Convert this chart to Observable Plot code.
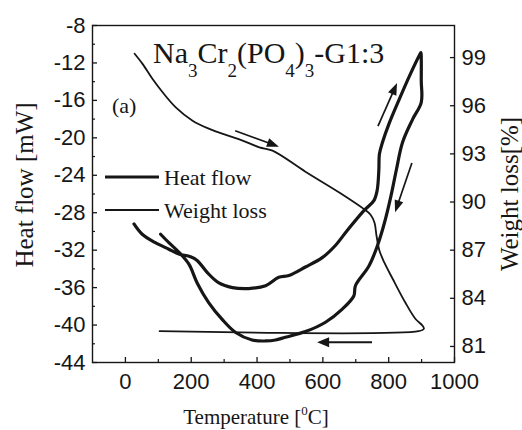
<!DOCTYPE html>
<html>
<head>
<meta charset="utf-8">
<script src="https://cdn.jsdelivr.net/npm/d3@7"></script>
<script src="https://cdn.jsdelivr.net/npm/@observablehq/plot@0.6"></script>
<style>
html, body { margin: 0; padding: 0; background: #fff; }
#chart svg { display: block; }
</style>
</head>
<body>
<div id="chart"></div>
<script>
// ---- data ----
// Heat flow [mW] vs temperature [°C], heating branch (30 °C -> 900 °C)
const heatTempHeating = [26, 51, 91, 132, 162, 198, 218, 249, 284, 325, 375, 426, 466, 497, 547, 598, 638, 674, 724, 755, 765, 770, 772, 781, 802, 833, 863, 893, 898];
const heatFlowHeating = [-29.2, -30.3, -31.2, -31.9, -32.4, -32.7, -33.1, -34.4, -35.5, -36.0, -36.1, -35.8, -34.9, -34.7, -33.8, -32.8, -31.5, -29.9, -27.8, -26.7, -25.6, -23.5, -21.7, -20.5, -18.4, -15.8, -13.4, -11.2, -10.9];
// cooling branch (900 °C -> 100 °C)
const heatTempCooling = [899, 899, 899, 873, 842, 824, 807, 787, 766, 740, 699, 694, 659, 608, 547, 486, 456, 426, 385, 335, 294, 253, 218, 193, 162, 132, 107];
const heatFlowCooling = [-11.5, -13.9, -16.2, -18.0, -20.5, -23.3, -26.2, -29.1, -31.5, -33.7, -35.8, -36.9, -38.3, -39.7, -40.7, -41.3, -41.6, -41.7, -41.6, -40.8, -39.4, -37.6, -35.5, -33.5, -32.2, -31.2, -30.3];
// Weight loss [%] vs temperature [°C]
const weightTemp = [28, 52, 82, 113, 153, 204, 255, 305, 356, 407, 447, 547, 651, 723, 745, 757, 763, 772, 787, 812, 851, 881, 903, 907, 891, 104];
const weightLoss = [99.24, 98.61, 97.68, 96.84, 95.9, 95.07, 94.56, 94.18, 93.83, 93.41, 93.2, 91.89, 90.58, 89.59, 89.21, 88.71, 87.9, 86.97, 86.22, 85.22, 83.72, 82.73, 82.29, 82.1, 81.95, 81.95];

// direction arrows: [temp1, heatflow1, temp2, heatflow2] (heat-flow axis units)
const arrowFromTemp = [335, 769, 872, 751];
const arrowFromFlow = [-19.3, -18.8, -22.75, -41.9];
const arrowToTemp = [468, 827, 821, 584];
const arrowToFlow = [-21.0, -14.2, -28.0, -41.9];

// axes
const xDomain = [-100, 1000];
const xTicks = [0, 200, 400, 600, 800, 1000];
const xMinorTicks = [100, 300, 500, 700, 900];
const yLeftDomain = [-44, -8];
const yLeftTicks = [-44, -40, -36, -32, -28, -24, -20, -16, -12, -8];
const yLeftMinorTicks = [-42, -38, -34, -30, -26, -22, -18, -14, -10];
const yRightDomain = [80, 101];
const yRightTicks = [81, 84, 87, 90, 93, 96, 99];

// texts
const titleParts = [["Na", 0], ["3", 1], ["Cr", 0], ["2", 1], ["(PO", 0], ["4", 1], [")", 0], ["3", 1], ["-G1:3", 0]];
const panelLabel = "(a)";
const legendLabels = ["Heat flow", "Weight loss"];
const xLabel = ["Temperature [", "0", "C]"];
const yLeftLabel = "Heat flow [mW]";
const yRightLabel = "Weight loss[%]";

// ---- build ----
const w2h = d3.scaleLinear().domain(yRightDomain).range(yLeftDomain);
const heatRows = heatTempHeating.map((t, i) => ({t, h: heatFlowHeating[i]}))
  .concat(heatTempCooling.map((t, i) => ({t, h: heatFlowCooling[i]})));
const weightRows = weightTemp.map((t, i) => ({t, h: w2h(weightLoss[i])}));
const arrows = arrowFromTemp.map((t, i) => ({t1: t, h1: arrowFromFlow[i], t2: arrowToTemp[i], h2: arrowToFlow[i]}));

const INK = "#161616";
const SANS = "'Liberation Sans', Arial, sans-serif";
const SERIF = "'Liberation Serif', 'Times New Roman', serif";

function annotations(index, scales, values, dim) {
  const {marginLeft: mL, marginTop: mT, width, height} = dim;
  const g = d3.create("svg:g").attr("fill", INK).attr("stroke", "none").attr("text-anchor", "start");
  // arrows with filled heads
  arrows.forEach((a, i) => {
    const x1 = scales.x(a.t1), y1 = scales.y(a.h1), x2 = scales.x(a.t2), y2 = scales.y(a.h2);
    const ang = Math.atan2(y2 - y1, x2 - x1);
    const L = 12, W = i === 3 ? 5 : 4.5;
    const bx = x2 - L * Math.cos(ang), by = y2 - L * Math.sin(ang);
    g.append("line").attr("x1", x1).attr("y1", y1).attr("x2", bx + 2 * Math.cos(ang)).attr("y2", by + 2 * Math.sin(ang))
      .attr("stroke", INK).attr("stroke-width", i === 3 ? 2 : 1.7);
    g.append("path").attr("d",
      `M${x2},${y2}L${bx + W * Math.sin(ang)},${by - W * Math.cos(ang)}L${bx - W * Math.sin(ang)},${by + W * Math.cos(ang)}Z`);
  });
  // title with subscripts
  const title = g.append("text").attr("x", mL + 61).attr("y", mT + 38).attr("text-anchor", "start")
    .attr("font-family", SERIF).attr("font-size", 30);
  let shifted = false;
  titleParts.forEach(([s, sub]) => {
    const ts = title.append("tspan").text(s);
    if (sub && !shifted) { ts.attr("dy", 14).attr("font-size", 19); shifted = true; }
    else if (sub) { ts.attr("font-size", 19); }
    else if (shifted) { ts.attr("dy", -14); shifted = false; }
  });
  // panel label
  g.append("text").attr("x", mL + 20).attr("y", mT + 88).attr("text-anchor", "start")
    .attr("font-family", SERIF).attr("font-size", 22).text(panelLabel);
  // legend
  const legY = [mT + 152, mT + 185], legW = [3.2, 1.8];
  legendLabels.forEach((lab, i) => {
    g.append("line").attr("x1", mL + 13).attr("x2", mL + 67).attr("y1", legY[i]).attr("y2", legY[i])
      .attr("stroke", INK).attr("stroke-width", legW[i]);
    g.append("text").attr("x", mL + 72).attr("y", legY[i] + 8).attr("text-anchor", "start")
      .attr("font-family", SERIF).attr("font-size", 22).text(lab);
  });
  // x axis title
  const xt = g.append("text").attr("x", 256).attr("y", height - 6).attr("text-anchor", "middle")
    .attr("font-family", SERIF).attr("font-size", 21);
  xt.append("tspan").text(xLabel[0]);
  xt.append("tspan").attr("dy", -9).attr("font-size", 13).text(xLabel[1]);
  xt.append("tspan").attr("dy", 9).text(xLabel[2]);
  // y axis titles (rotated)
  g.append("text").attr("transform", `translate(24,${mT + 160}) rotate(-90)`).attr("text-anchor", "middle")
    .attr("dominant-baseline", "central").attr("font-family", SERIF).attr("font-size", 25).text(yLeftLabel);
  g.append("text").attr("transform", `translate(${width - 13},${mT + 169}) rotate(-90)`).attr("text-anchor", "middle")
    .attr("dominant-baseline", "central").attr("font-family", SERIF).attr("font-size", 25).text(yRightLabel);
  return g.node();
}

const chart = Plot.plot({
  width: 522,
  height: 430,
  marginLeft: 92,
  marginRight: 68,
  marginTop: 25,
  marginBottom: 68,
  style: {background: "#fff", color: INK},
  x: {domain: xDomain, label: null},
  y: {domain: yLeftDomain, label: null},
  marks: [
    Plot.frame({stroke: INK, strokeWidth: 1.4}),
    Plot.axisX(xTicks, {anchor: "bottom", tickSize: -5, tickPadding: 16, tickFormat: d => String(d),
      fontSize: 22, fontFamily: SANS, label: null, strokeWidth: 1.3}),
    Plot.axisX(xMinorTicks, {anchor: "bottom", tickSize: -3, tickFormat: () => "", label: null, strokeWidth: 1.2}),
    Plot.axisY(yLeftTicks, {anchor: "left", tickSize: -5, tickPadding: 12, tickFormat: d => String(d),
      fontSize: 22, fontFamily: SANS, label: null, strokeWidth: 1.3}),
    Plot.axisY(yLeftMinorTicks, {anchor: "left", tickSize: -3, tickFormat: () => "", label: null, strokeWidth: 1.2}),
    Plot.axisY(yRightTicks.map(w2h), {anchor: "right", tickSize: -5, tickPadding: 12,
      tickFormat: h => String(Math.round(w2h.invert(h))), fontSize: 22, fontFamily: SANS, label: null, strokeWidth: 1.3}),
    Plot.line(weightRows, {x: "t", y: "h", stroke: INK, strokeWidth: 1.8, curve: "catmull-rom"}),
    Plot.line(heatRows, {x: "t", y: "h", stroke: INK, strokeWidth: 3.2, curve: "catmull-rom", strokeLinejoin: "round"}),
    annotations
  ]
});
document.getElementById("chart").append(chart);
</script>
</body>
</html>
